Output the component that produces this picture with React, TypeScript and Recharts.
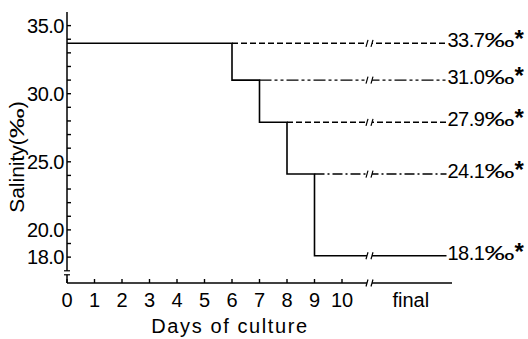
import { LineChart, Line, XAxis, YAxis, ReferenceDot } from "recharts";

// Salinity held at each level, then lowered on the listed day
const salinityLevels = [33.7, 31.0, 27.9, 24.1, 18.1];
const dropDays = [6, 7, 8, 9];
// Dash pattern of each level's line after it branches off the solid step
const branchDashes = ["6 3", "12 3 3 3 3 3", "6 3", "10 3 2 3"];

const dayTicks = [0, 1, 2, 3, 4, 5, 6, 7, 8, 9, 10];
const FINAL_POS = 12.5; // where the "final" column sits on the day axis
const LINE_END = 13.8; // lines run out to the value labels
const BREAK_POS = 11; // axis break between day 10 and final

const salinityTicks = [18, 19, 20, 21, 22, 23, 24, 25, 26, 27, 28, 29, 30, 31, 32, 33, 34, 35];
const labelledSalinity = [18, 20, 25, 30, 35];

const FONT = "'Liberation Sans', Arial, sans-serif";

type Pt = { day: number; salinity: number };

const stepPoints: Pt[] = [{ day: 0, salinity: salinityLevels[0] }];
dropDays.forEach((d, i) => {
  stepPoints.push({ day: d, salinity: salinityLevels[i] });
  stepPoints.push({ day: d, salinity: salinityLevels[i + 1] });
});
stepPoints.push({ day: LINE_END, salinity: salinityLevels[salinityLevels.length - 1] });

const branches: Pt[][] = dropDays.map((d, i) => [
  { day: d, salinity: salinityLevels[i] },
  { day: LINE_END, salinity: salinityLevels[i] },
]);

function DayTick({ x, y, payload }: any) {
  const isFinal = payload.value === FINAL_POS;
  return (
    <g>
      {!isFinal && <line x1={x} y1={y} x2={x} y2={y - 4} stroke="#000" strokeWidth={1.4} />}
      <text x={x} y={y + 24} textAnchor="middle" fontSize={20} fontFamily={FONT} fill="#000">
        {isFinal ? "final" : payload.value}
      </text>
    </g>
  );
}

function SalinityTick({ x, y, payload }: any) {
  const labelled = labelledSalinity.includes(payload.value);
  return (
    <g>
      <line x1={x} y1={y} x2={x + 4} y2={y} stroke="#000" strokeWidth={1.4} />
      {labelled && (
        <text x={x - 3} y={y + 7} textAnchor="end" fontSize={20} fontFamily={FONT} fill="#000" letterSpacing={-0.5}>
          {payload.value.toFixed(1)}
        </text>
      )}
    </g>
  );
}

// Little "≀≀" break drawn across a horizontal line
function LineBreak({ cx, cy }: any) {
  return (
    <g>
      <rect x={cx - 2.5} y={cy - 3} width={5} height={6} fill="#fff" />
      <line x1={cx - 3.5} y1={cy + 3.5} x2={cx - 1.5} y2={cy - 3.5} stroke="#000" strokeWidth={1.2} />
      <line x1={cx + 1.5} y1={cy + 3.5} x2={cx + 3.5} y2={cy - 3.5} stroke="#000" strokeWidth={1.2} />
    </g>
  );
}

// Break across the vertical axis below 18.0
function AxisBreak({ cx, cy }: any) {
  return (
    <g>
      <rect x={cx - 3} y={cy - 2} width={6} height={4} fill="#fff" />
      <line x1={cx - 3} y1={cy - 2} x2={cx + 3} y2={cy - 2} stroke="#000" strokeWidth={1.2} />
      <line x1={cx - 3} y1={cy + 2} x2={cx + 3} y2={cy + 2} stroke="#000" strokeWidth={1.2} />
    </g>
  );
}

function LevelLabel({ cx, cy, value }: any) {
  return (
    <text x={cx + 1} y={cy + 4} fontSize={20} fontFamily={FONT} fill="#000">
      <tspan letterSpacing={-0.5}>{value.toFixed(1)}</tspan>
      <tspan textLength={30} lengthAdjust="spacingAndGlyphs">‰</tspan>
      <tspan fontSize={24} fontWeight="bold">*</tspan>
    </text>
  );
}

function AxisTitle({ viewBox }: any) {
  return (
    <text x={viewBox.x + 163} y={viewBox.y + 50} textAnchor="middle" fontSize={20} fontFamily={FONT} letterSpacing={1.6} fill="#000">
      Days of culture
    </text>
  );
}

function SalinityTitle() {
  return (
    <text x={24} y={157} transform="rotate(-90 24 157)" textAnchor="middle" fontSize={21} fontFamily={FONT} fill="#000">
      <tspan>Salinity(</tspan>
      <tspan textLength={30} lengthAdjust="spacingAndGlyphs">‰</tspan>
      <tspan>)</tspan>
    </text>
  );
}

export default function App() {
  return (
    <div style={{ position: "absolute", left: 0, top: 0, width: 528, height: 339, background: "#fff" }}>
      <LineChart width={528} height={339} margin={{ top: 12, right: 76, bottom: 0, left: 0 }}>
        <XAxis
          dataKey="day"
          type="number"
          domain={[0, 14]}
          ticks={[...dayTicks, FINAL_POS]}
          interval={0}
          allowDataOverflow
          height={56}
          tickSize={0}
          tickMargin={0}
          tickLine={false}
          tick={<DayTick />}
          axisLine={{ stroke: "#000", strokeWidth: 1.5 }}
          label={<AxisTitle />}
        />
        <YAxis
          dataKey="salinity"
          type="number"
          domain={[16.1, 36]}
          ticks={salinityTicks}
          interval={0}
          allowDataOverflow
          width={67}
          tickSize={0}
          tickMargin={0}
          tickLine={false}
          tick={<SalinityTick />}
          axisLine={{ stroke: "#000", strokeWidth: 1.5 }}
        />
        <Line
          data={stepPoints}
          dataKey="salinity"
          type="linear"
          stroke="#000"
          strokeWidth={1.6}
          dot={false}
          isAnimationActive={false}
        />
        {branches.map((pts, i) => (
          <Line
            key={`branch-${i}`}
            data={pts}
            dataKey="salinity"
            type="linear"
            stroke="#000"
            strokeWidth={1.4}
            strokeDasharray={branchDashes[i]}
            dot={false}
            isAnimationActive={false}
          />
        ))}
        {salinityLevels.map((s) => (
          <ReferenceDot key={`br-${s}`} x={BREAK_POS} y={s} ifOverflow="visible" shape={(p: any) => <LineBreak cx={p.cx} cy={p.cy} />} />
        ))}
        <ReferenceDot x={BREAK_POS} y={16.1} ifOverflow="visible" shape={(p: any) => <LineBreak cx={p.cx} cy={p.cy} />} />
        <ReferenceDot x={0} y={16.85} ifOverflow="visible" shape={(p: any) => <AxisBreak cx={p.cx} cy={p.cy} />} />
        {salinityLevels.map((s) => (
          <ReferenceDot key={`lb-${s}`} x={LINE_END} y={s} ifOverflow="visible" shape={(p: any) => <LevelLabel cx={p.cx} cy={p.cy} value={s} />} />
        ))}
        <SalinityTitle />
      </LineChart>
    </div>
  );
}
